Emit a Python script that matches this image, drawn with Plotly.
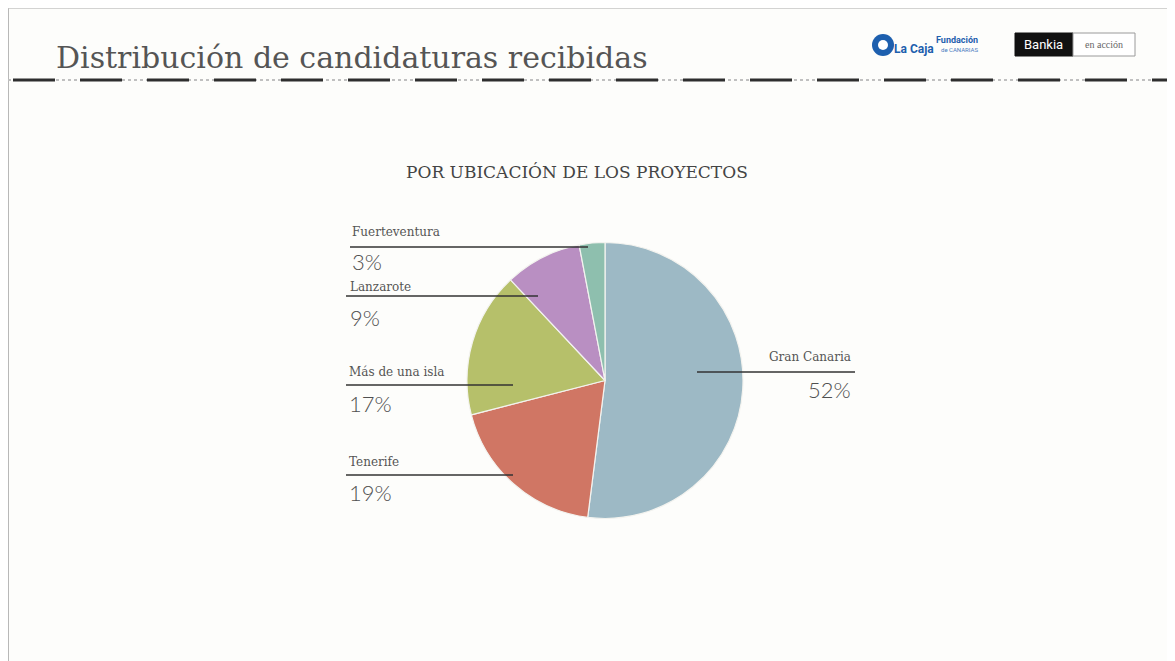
import plotly.graph_objects as go

# Data
categories = ["Gran Canaria", "Tenerife", "Más de una isla", "Lanzarote", "Fuerteventura"]
values = [52, 19, 17, 9, 3]
pct_labels = ["52%", "19%", "17%", "9%", "3%"]
colors = ["#9db9c5", "#d07664", "#b6c06a", "#b98fc2", "#8ebfae"]

title_text = "Distribución de candidaturas recibidas"
subtitle_text = "POR UBICACIÓN DE LOS PROYECTOS"

OFF = 8  # page body margin
W, H = 1175 - OFF, 661 - OFF


def px(x):
    return (x - OFF) / W


def py(y):
    return 1 - (y - OFF) / H


fig = go.Figure()
fig.add_trace(go.Pie(
    labels=categories, values=values, sort=False, direction="clockwise", rotation=0,
    marker=dict(colors=colors, line=dict(color="#f3f3ef", width=1.2)),
    textinfo="none", hoverinfo="label+percent", showlegend=False,
    domain=dict(x=[px(467), px(743)], y=[py(519), py(242)]),
))

shapes = []
annotations = []

# frame
shapes.append(dict(type="line", xref="paper", yref="paper", x0=0, x1=0, y0=0, y1=1,
                   line=dict(color="#b8b8b8", width=2)))
shapes.append(dict(type="line", xref="paper", yref="paper", x0=0, x1=1, y0=1, y1=1,
                   line=dict(color="#c4c4c4", width=1.5)))

# header rule
shapes.append(dict(type="line", xref="paper", yref="paper", x0=0, x1=1, y0=py(80), y1=py(80),
                   line=dict(color="#c0c0c0", width=2, dash="dot")))
shapes.append(dict(type="line", xref="paper", yref="paper", x0=px(13), x1=1, y0=py(80), y1=py(80),
                   line=dict(color="#2e2e2e", width=3, dash="42px,25px")))

annotations.append(dict(text=title_text, x=px(54), y=py(58), xref="paper", yref="paper",
                        xanchor="left", yanchor="middle", showarrow=False,
                        font=dict(family="DejaVu Serif", size=30, color="#555555")))
annotations.append(dict(text=subtitle_text, x=px(577), y=py(172), xref="paper", yref="paper",
                        xanchor="center", yanchor="middle", showarrow=False,
                        font=dict(family="DejaVu Serif", size=17, color="#444444")))

# La Caja logo
shapes.append(dict(type="circle", xref="paper", yref="paper", x0=px(872), x1=px(894), y0=py(56), y1=py(34),
                   fillcolor="#1d5fae", line=dict(width=0)))
shapes.append(dict(type="circle", xref="paper", yref="paper", x0=px(878), x1=px(888), y0=py(50), y1=py(40),
                   fillcolor="#ffffff", line=dict(width=0)))
annotations.append(dict(text="<b>La Caja</b>", x=px(892), y=py(49), xref="paper", yref="paper",
                        xanchor="left", yanchor="middle", showarrow=False,
                        font=dict(family="Roboto", size=12, color="#1d5fae")))
annotations.append(dict(text="<b>Fundación</b>", x=px(980), y=py(40), xref="paper", yref="paper",
                        xanchor="right", yanchor="middle", showarrow=False,
                        font=dict(family="Roboto", size=9, color="#1d5fae")))
annotations.append(dict(text="de CANARIAS", x=px(980), y=py(50), xref="paper", yref="paper",
                        xanchor="right", yanchor="middle", showarrow=False,
                        font=dict(family="Roboto", size=6, color="#4a7cc0")))

# Bankia logo
shapes.append(dict(type="rect", xref="paper", yref="paper", x0=px(1015), x1=px(1073), y0=py(56), y1=py(33),
                   fillcolor="#111111", line=dict(color="#111111", width=1)))
shapes.append(dict(type="rect", xref="paper", yref="paper", x0=px(1073), x1=px(1135), y0=py(56), y1=py(33),
                   fillcolor="#ffffff", line=dict(color="#9a9a9a", width=1)))
annotations.append(dict(text="Bankia", x=px(1043), y=py(44), xref="paper", yref="paper",
                        xanchor="center", yanchor="middle", showarrow=False,
                        font=dict(family="Roboto", size=13, color="#ffffff")))
annotations.append(dict(text="en acción", x=px(1104), y=py(44), xref="paper", yref="paper",
                        xanchor="center", yanchor="middle", showarrow=False,
                        font=dict(family="Liberation Serif", size=10, color="#666666")))

# label layout: name_y, line_y, pct_y, line_x0, line_x1, text_x, anchor
label_pos = {
    "Fuerteventura": (232, 247, 262, 350, 588, 350, "left"),
    "Lanzarote": (287, 296, 318, 346, 538, 348, "left"),
    "Más de una isla": (372, 385, 403, 346, 513, 347, "left"),
    "Tenerife": (462, 475, 492, 346, 513, 347, "left"),
    "Gran Canaria": (357, 372, 389, 697, 855, 853, "right"),
}

for cat, pct in zip(categories, pct_labels):
    ny, ly, pyy, lx0, lx1, tx, anc = label_pos[cat]
    shapes.append(dict(type="line", xref="paper", yref="paper", x0=px(lx0), x1=px(lx1),
                       y0=py(ly), y1=py(ly), line=dict(color="#333333", width=1.5)))
    annotations.append(dict(text=cat, x=px(tx), y=py(ny), xref="paper", yref="paper",
                            xanchor=anc, yanchor="middle", showarrow=False,
                            font=dict(family="DejaVu Serif", size=12, color="#555555")))
    annotations.append(dict(text=pct, x=px(tx), y=py(pyy), xref="paper", yref="paper",
                            xanchor=anc, yanchor="middle", showarrow=False,
                            font=dict(family="Lato", size=22, color="#505050", weight=300)))

fig.update_layout(
    width=W, height=H, margin=dict(l=0, r=0, t=0, b=0),
    paper_bgcolor="#fdfdfb", plot_bgcolor="#fdfdfb",
    shapes=shapes, annotations=annotations,
)

fig.write_html("out.html")
